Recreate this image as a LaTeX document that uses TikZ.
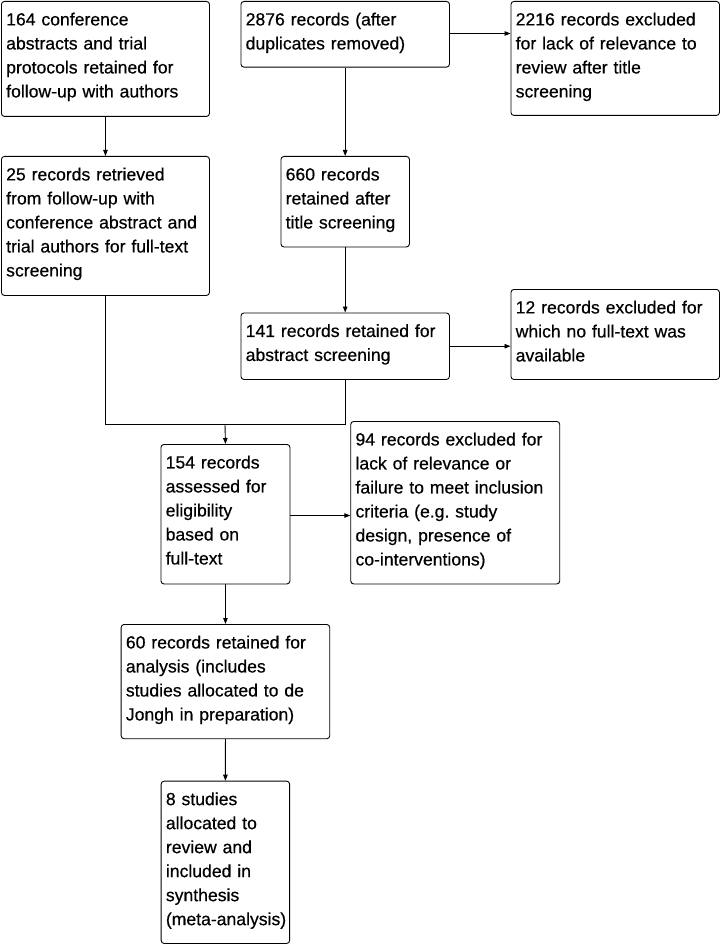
\documentclass[tikz,border=0pt]{standalone}
\usepackage{fontspec}
\setmainfont[FakeBold=0.5]{Liberation Sans}
\usetikzlibrary{arrows.meta,calc}
\frenchspacing
\begin{document}
\begin{tikzpicture}[x=1pt,y=1pt,
  box/.style={draw, line width=0.9pt, rounded corners=3pt, inner sep=0pt, anchor=north west},
  txt/.style={anchor=north west, inner sep=0pt, align=left, text width=240pt, font=\fontsize{17.6}{24}\selectfont},
  arr/.style={-{Triangle[length=6pt,width=4.5pt]}, line width=0.9pt},
  ln/.style={line width=0.9pt}]
\useasboundingbox[fill=white] (0,0) rectangle (722,-944);

\node[box, minimum width=208pt, minimum height=115pt] (b1) at (1,-1) {};
\node[txt] (t1) at ($(b1.north west)+(5,-11.5)$) {164 conference\\abstracts and trial\\protocols retained for\\follow-up with authors};

\node[box, minimum width=208.5pt, minimum height=65.7pt] (b2) at (240.5,-1) {};
\node[txt] (t2) at ($(b2.north west)+(5,-11.5)$) {2876 records (after\\duplicates removed)};

\node[box, minimum width=208.5pt, minimum height=114pt] (b3) at (510.5,-1) {};
\node[txt] (t3) at ($(b3.north west)+(5,-11.5)$) {2216 records excluded\\for lack of relevance to\\review after title\\screening};

\node[box, minimum width=208pt, minimum height=139pt] (b4) at (1,-156) {};
\node[txt] (t4) at ($(b4.north west)+(5,-11.5)$) {25 records retrieved\\from follow-up with\\conference abstract and\\trial authors for full-text\\screening};

\node[box, minimum width=128.5pt, minimum height=90.5pt] (b5) at (280.5,-156) {};
\node[txt] (t5) at ($(b5.north west)+(5,-11.5)$) {660 records\\retained after\\title screening};

\node[box, minimum width=208.5pt, minimum height=66.5pt] (b6) at (240.5,-312.5) {};
\node[txt] (t6) at ($(b6.north west)+(5,-11.5)$) {141 records retained for\\abstract screening};

\node[box, minimum width=208.5pt, minimum height=90pt] (b7) at (510.5,-289) {};
\node[txt] (t7) at ($(b7.north west)+(5,-11.5)$) {12 records excluded for\\which no full-text was\\available};

\node[box, minimum width=129pt, minimum height=139.5pt] (b8) at (160.5,-444) {};
\node[txt] (t8) at ($(b8.north west)+(5,-11.5)$) {154 records\\assessed for\\eligibility\\based on\\full-text};

\node[box, minimum width=209pt, minimum height=162.5pt] (b9) at (350.3,-421) {};
\node[txt] (t9) at ($(b9.north west)+(5,-11.5)$) {94 records excluded for\\lack of relevance or\\failure to meet inclusion\\criteria (e.g. study\\design, presence of\\co-interventions)};

\node[box, minimum width=208.6pt, minimum height=114.3pt] (b10) at (120.7,-624) {};
\node[txt] (t10) at ($(b10.north west)+(5,-11.5)$) {60 records retained for\\analysis (includes\\studies allocated to de\\Jongh in preparation)};

\node[box, minimum width=128.5pt, minimum height=162.3pt] (b11) at (160.7,-780.7) {};
\node[txt] (t11) at ($(b11.north west)+(5,-11.5)$) {8 studies\\allocated to\\review and\\included in\\synthesis\\(meta-analysis)};

\coordinate (m) at (225,-424.5);
\coordinate (e2) at (0,-33.5);
\coordinate (e8) at (0,-515.5);

\draw[arr] (b1.south) -- (b4.north);
\draw[arr] (b2.east |- e2) -- (b3.west |- e2);
\draw[arr] (b2.south) -- (b5.north);
\draw[arr] (b5.south) -- (b6.north);
\draw[arr] (b6.east) -- (b6.east -| b7.west);
\draw[ln] (b4.south) |- (m) -| (b6.south);
\draw[arr] (m) -- (b8.north);
\draw[arr] (b8.east |- e8) -- (b9.west |- e8);
\draw[arr] (b8.south) -- (b10.north);
\draw[arr] (b10.south) -- (b11.north);
\end{tikzpicture}
\end{document}
